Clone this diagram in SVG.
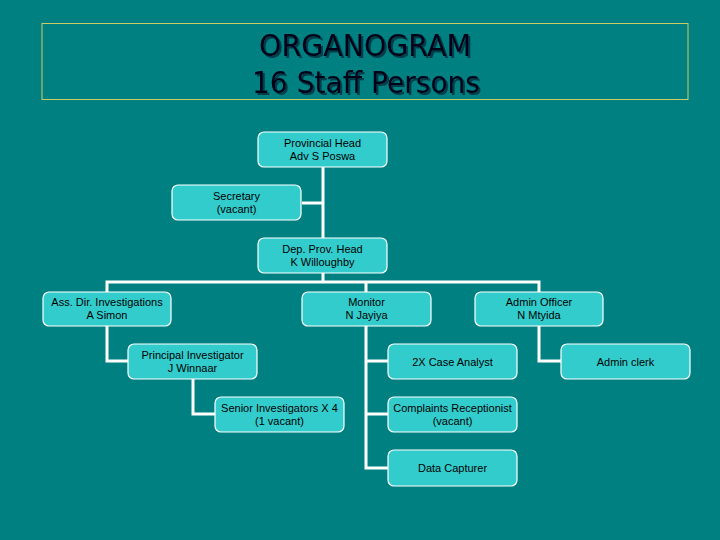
<svg xmlns="http://www.w3.org/2000/svg" width="720" height="540" viewBox="0 0 720 540">
<defs>
<filter id="shadow" x="-10%" y="-30%" width="120%" height="160%"><feDropShadow dx="2" dy="2" stdDeviation="0.6" flood-color="#003C4C" flood-opacity="1"/></filter>
</defs>
<style>
.node rect{fill:#33CCCC;stroke:#FFFFFF;stroke-width:1.2}
.node text{font-family:"Liberation Sans",Arial,sans-serif;font-size:11px;fill:#000;text-anchor:middle}
.conn{fill:none;stroke:#FFFFFF;stroke-width:3}
.title{font-family:"DejaVu Sans",Tahoma,sans-serif;font-size:31px;text-anchor:middle;fill:#000018;filter:url(#shadow)}
</style>
<rect width="720" height="540" fill="#008080"/>
<g id="title">
<rect x="42" y="23.5" width="646" height="76" fill="none" stroke="#CCCC66" stroke-width="1"/>
<text class="title" x="365" y="56" textLength="212" lengthAdjust="spacingAndGlyphs">ORGANOGRAM</text>
<text class="title" x="366" y="93" textLength="228" lengthAdjust="spacingAndGlyphs">16 Staff Persons</text>
</g>
<g id="connectors">
<path class="conn" d="M323 167V282M302 203H323"/>
<path class="conn" d="M107 292V282H539V292M366 282V292"/>
<path class="conn" d="M107 326V361H128"/>
<path class="conn" d="M193 379V414H215"/>
<path class="conn" d="M366 326V468H388M366 361H388M366 414H388"/>
<path class="conn" d="M539 326V361H561"/>
</g>
<g id="provincial-head" class="node"><rect x="258" y="132" width="129" height="35" rx="6"/><text x="322.5" y="146.5">Provincial Head</text><text x="322.5" y="159.5">Adv S Poswa</text></g>
<g id="secretary" class="node"><rect x="172" y="185" width="129" height="35" rx="6"/><text x="236.5" y="199.5">Secretary</text><text x="236.5" y="212.5">(vacant)</text></g>
<g id="dep-prov-head" class="node"><rect x="258" y="238" width="129" height="35" rx="6"/><text x="322.5" y="252.5">Dep. Prov. Head</text><text x="322.5" y="265.5">K Willoughby</text></g>
<g id="ass-dir" class="node"><rect x="43" y="292" width="128" height="34" rx="6"/><text x="107" y="305.5">Ass. Dir. Investigations</text><text x="107" y="318.5">A Simon</text></g>
<g id="monitor" class="node"><rect x="302" y="292" width="129" height="34" rx="6"/><text x="366.5" y="305.5">Monitor</text><text x="366.5" y="318.5">N Jayiya</text></g>
<g id="admin-officer" class="node"><rect x="475" y="292" width="128" height="34" rx="6"/><text x="539" y="305.5">Admin Officer</text><text x="539" y="318.5">N Mtyida</text></g>
<g id="principal-investigator" class="node"><rect x="128" y="344" width="129" height="35" rx="6"/><text x="192.5" y="358.5">Principal Investigator</text><text x="192.5" y="371.5">J Winnaar</text></g>
<g id="case-analyst" class="node"><rect x="388" y="344" width="129" height="35" rx="6"/><text x="452.5" y="365.5">2X Case Analyst</text></g>
<g id="admin-clerk" class="node"><rect x="561" y="344" width="129" height="35" rx="6"/><text x="625.5" y="365.5">Admin clerk</text></g>
<g id="senior-investigators" class="node"><rect x="215" y="397" width="129" height="35" rx="6"/><text x="279.5" y="411.5">Senior Investigators X 4</text><text x="279.5" y="424.5">(1 vacant)</text></g>
<g id="complaints-receptionist" class="node"><rect x="388" y="397" width="129" height="35" rx="6"/><text x="452.5" y="411.5">Complaints Receptionist</text><text x="452.5" y="424.5">(vacant)</text></g>
<g id="data-capturer" class="node"><rect x="388" y="450" width="129" height="36" rx="6"/><text x="452.5" y="472">Data Capturer</text></g>
</svg>
